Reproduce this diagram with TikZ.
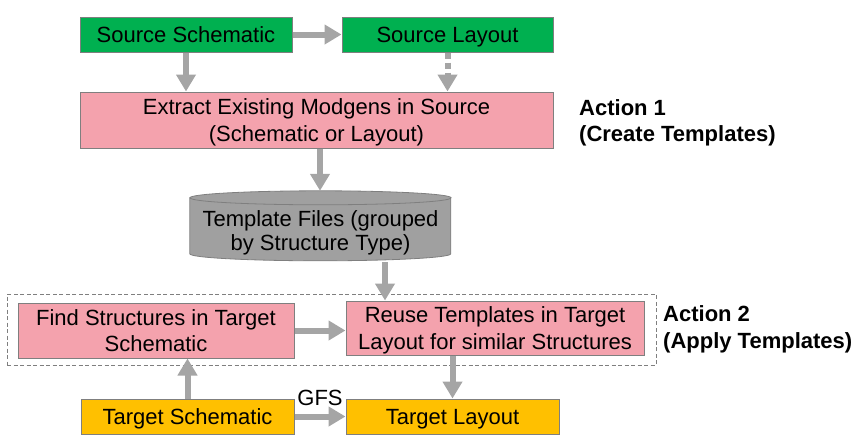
\documentclass[tikz,border=0pt]{standalone}
\usepackage{fontspec}
\setmainfont{Liberation Sans}
\usetikzlibrary{arrows.meta,calc}
\definecolor{boxgreen}{HTML}{00B050}
\definecolor{boxpink}{HTML}{F4A2AD}
\definecolor{boxgold}{HTML}{FFC000}
\definecolor{arrgray}{HTML}{A5A5A5}
\definecolor{cylgray}{HTML}{A0A0A0}
\definecolor{edgegray}{HTML}{7F7F7F}
\begin{document}
\begin{tikzpicture}[x=1pt,y=-1pt,
  every node/.style={font=\fontsize{22}{26.5}\selectfont, inner sep=0pt, align=center},
  boxbase/.style={draw=edgegray, line width=1pt, rectangle, text depth=0pt},
  greenbox/.style={boxbase, fill=boxgreen},
  pinkbox/.style={boxbase, fill=boxpink},
  goldbox/.style={boxbase, fill=boxgold},
  arr/.style={draw=arrgray, line width=6pt, -{Triangle[length=17pt,width=19pt]}},
  dotarr/.style={arr, dash pattern=on 6pt off 4pt},
  grpbox/.style={draw=edgegray, line width=0.8pt, dash pattern=on 4pt off 2.5pt},
  actlabel/.style={font=\fontsize{22}{26.5}\selectfont\bfseries, align=left, anchor=west}
]
\useasboundingbox (0,0) rectangle (858,445);

% top row
\node[greenbox, minimum width=212pt, minimum height=35pt] (ss) at (186,34.5) {Source Schematic};
\node[greenbox, minimum width=211pt, minimum height=35pt] (sl) at (447.5,34.5) {Source Layout};
\node[pinkbox, minimum width=473pt, minimum height=56pt] (ext) at (316.5,120) {Extract Existing Modgens in Source\\(Schematic or Layout)};

% cylinder
\node[minimum width=261pt, minimum height=71pt] (tf) at (320.5,226.5) {};
\fill[cylgray, draw=edgegray, line width=0.8pt]
  (tf.north west) ++(0,7) -- ++(0,56)
  arc[start angle=180, end angle=360, x radius=130.5pt, y radius=7pt]
  -- ++(0,-56) -- cycle;
\fill[cylgray, draw=edgegray, line width=0.8pt] ($(tf.north)+(0,7)$) ellipse[x radius=130.5pt, y radius=7pt];
\node[font=\fontsize{22}{24}\selectfont] (tftext) at (320.5,233) {Template Files (grouped\\by Structure Type)};

% lower group
\node[grpbox, minimum width=649pt, minimum height=71pt] (grp) at (331.5,329.5) {};
\node[pinkbox, minimum width=276pt, minimum height=55pt] (find) at (156,330.5) {Find Structures in Target\\Schematic};
\node[pinkbox, minimum width=298pt, minimum height=54pt] (reuse) at (495,328) {Reuse Templates in Target\\Layout for similar Structures};
\node[goldbox, minimum width=213pt, minimum height=35pt] (ts) at (187.5,416.5) {Target Schematic};
\node[goldbox, minimum width=213pt, minimum height=35pt] (tl) at (452.5,416.5) {Target Layout};

% action labels
\node[actlabel] (act1) at (579,123) {Action 1\\(Create Templates)};
\node[actlabel] (act2) at (663,329.5) {Action 2\\(Apply Templates)};

% connectors
\draw[arr] (ss.east) -- (sl.west);
\draw[arr] (ss.south) -- (ss.south |- ext.north);
\draw[dotarr] (sl.south) -- (sl.south |- ext.north);
\draw[arr] ([xshift=3.5pt]ext.south) -- ([xshift=3.5pt]ext.south |- tf.north);
\draw[arr] ([xshift=64.5pt]tf.south) -- ([xshift=64.5pt]tf.south |- reuse.north);
\draw[arr] (find.east) -- (reuse.west |- find.east);
\draw[arr] (ts.north) -- (ts.north |- find.south);
\draw[arr] (tl.north |- reuse.south) -- (tl.north);
\draw[arr] (ts.east) -- node[anchor=base, yshift=11.5pt] (gfs) {GFS} (tl.west);
\end{tikzpicture}
\end{document}
